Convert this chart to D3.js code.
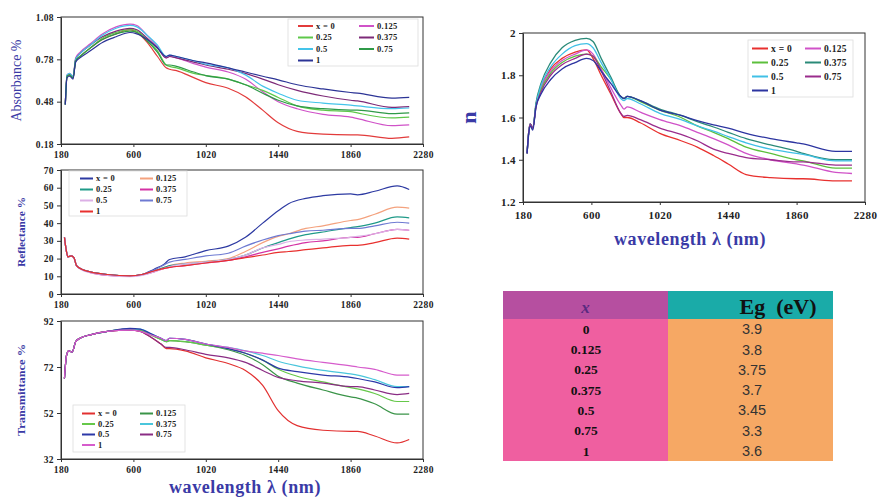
<!DOCTYPE html>
<html><head><meta charset="utf-8">
<script src="https://cdn.jsdelivr.net/npm/d3@7"></script>
<style>body{margin:0;background:#fff}svg{display:block}</style>
</head><body>
<svg id="c" width="880" height="497"></svg>
<script>
// ---------- DATA ----------
const xTicks = [180, 600, 1020, 1440, 1860, 2280];
const labels = ["x = 0", "0.125", "0.25", "0.375", "0.5", "0.75", "1"];

// Absorbance
const absWl = [205,215,230,250,265,290,350,420,500,580,620,680,740,790,810,850,950,1020,1150,1250,1350,1440,1550,1700,1860,1900,2100,2200];
const absTicks = [0.18, 0.48, 0.78, 1.08];
const abs0    = [0.46,0.66,0.67,0.65,0.77,0.80,0.86,0.92,0.96,0.99,0.97,0.90,0.80,0.72,0.71,0.70,0.65,0.615,0.575,0.515,0.42,0.33,0.27,0.25,0.245,0.245,0.22,0.23];
const abs0125 = [0.46,0.67,0.68,0.66,0.79,0.83,0.89,0.96,1.01,1.03,1.02,0.95,0.87,0.79,0.80,0.79,0.75,0.725,0.69,0.64,0.55,0.48,0.43,0.39,0.37,0.36,0.31,0.315];
const abs025  = [0.46,0.66,0.67,0.65,0.77,0.80,0.86,0.93,0.97,0.99,0.98,0.92,0.84,0.74,0.73,0.72,0.68,0.665,0.64,0.60,0.56,0.51,0.45,0.42,0.41,0.40,0.365,0.37];
const abs0375 = [0.46,0.66,0.67,0.65,0.78,0.82,0.88,0.94,0.98,1.00,0.99,0.93,0.86,0.79,0.80,0.79,0.76,0.74,0.71,0.68,0.64,0.60,0.56,0.52,0.49,0.485,0.44,0.445];
const abs05   = [0.46,0.67,0.68,0.66,0.78,0.82,0.88,0.95,1.00,1.02,1.01,0.95,0.88,0.80,0.81,0.80,0.77,0.745,0.72,0.67,0.59,0.54,0.49,0.47,0.455,0.45,0.43,0.435];
const abs075  = [0.46,0.66,0.67,0.65,0.77,0.80,0.86,0.92,0.96,0.98,0.97,0.91,0.83,0.74,0.74,0.73,0.69,0.665,0.64,0.60,0.54,0.49,0.45,0.43,0.42,0.42,0.395,0.40];
const abs1    = [0.46,0.65,0.66,0.64,0.76,0.79,0.84,0.90,0.94,0.97,0.96,0.92,0.86,0.80,0.81,0.80,0.77,0.755,0.72,0.69,0.66,0.635,0.60,0.57,0.545,0.54,0.505,0.51];
const absColors = ["#e23b3b","#d052c8","#5ec84a","#7d2a78","#44c4ea","#2f9a48","#2c3496"];

// Reflectance
const refWl = [200,210,220,240,255,270,300,350,450,580,650,720,780,810,900,1020,1150,1250,1350,1440,1500,1600,1700,1860,1900,2000,2130,2200];
const refTicks = [0,10,20,30,40,50,60,70];
const ref0    = [32,25,21,21.5,20.5,16,14,12.5,11,10.3,11,14,17,19.5,21,24.5,27,32,40,47,51,54,55.5,56.5,56,58,61,59];
const ref0125 = [32,25,21,21.5,20.5,16,14,12.5,11,10.3,11,13,15,16,17.5,18.5,20,24,29,32.5,34,37,38.5,41.5,42,45,49,48.5];
const ref025  = [32,25,21,21.5,20.5,16,14,12.5,11,10.2,11,13,15,16,17,18,19.5,22,26,29,31,33.5,35,37.5,38,40,43.5,43];
const ref0375 = [32,25,21,21.5,20.5,16,14,12,10.5,10,10.8,12.5,14.5,15,16,17.5,19,21,23.5,25.5,27,29,30,32,32,34,36.5,36];
const ref05   = [32,25,21,21.5,20.5,16,13.5,12,10.5,9.8,10.5,12.5,14.5,15.5,17,18,19.5,22,26,28,29.5,30.5,31,32,32.5,34,36.5,36];
const ref075  = [32,25,21,21.5,20.5,16,14,12.5,11,10.3,11,13.5,16.5,18,19.5,21.5,23,27,30.5,33,34,35.5,36,37,37,38.5,40.5,40];
const ref1    = [32,25,21,21.5,20.5,16,14,12.5,11,10.2,11,13,14.5,15,16,17.5,19,20.5,22,23.5,24,25,26,27.5,27.5,29,31.5,31];
const refColors = ["#2d3aa2","#f4a27e","#1f9a88","#d432a4","#dcb0e6","#6e7ad2","#e8302e"];

// Transmittance
const trWl = [200,212,225,245,265,290,350,450,580,640,700,760,790,810,900,1020,1150,1250,1350,1440,1550,1700,1860,1900,2000,2130,2200];
const trTicks = [32,52,72,92];
const tr0    = [67,77,79,78.5,83,84.5,86,87.5,88,87.5,85,82,80,80,79,76,73.5,70.5,64,53,46.5,44.5,44,44,42,39,40.5];
const tr0125 = [67,77,79,78.5,83,84.5,86,87.5,88.5,88,86,84,83,83.5,83,81.5,79.5,77,73,68,65,62,59,58.5,56,51.5,51.5];
const tr025  = [67,77,79,78.5,83,84.5,86,87.5,88.5,88,86,84,83,83.5,83,81.5,80,78,75,71,68,65.5,63,62.5,60.5,57,57];
const tr0375 = [67,77,79,78.5,83,84.5,86,87.5,88.5,88.5,86.5,84.5,83.5,84.5,84,82,80.5,79,77,74.5,72.5,70.5,69,68.5,66.5,63.5,63.5];
const tr05   = [67,77,79,78.5,83,84.5,86,87.5,88.8,88.5,86.5,84.5,83.5,84.5,84,82,80,78,75,71.5,70,68.5,67.5,67,65.5,63,63.5];
const tr075  = [67,77,79,78.5,83,84.5,86,87.5,88,87.5,85,82,80.5,80.5,79.5,77.5,76,74,70.5,67.5,66,65,63.5,63.5,62,60,60.5];
const tr1    = [67,77,79,78.5,83,84.5,86,87.5,88,87.5,86,84.5,83.5,84.5,84,82,80.5,79,78,77,75.5,74,72.5,72,71,68.5,68.5];
const trColors = ["#e23030","#3a9448","#66c84a","#4ac6dc","#2c38a8","#8a2c84","#d65ccc"];

// Refractive index n
const nWl = [205,215,225,240,260,290,350,420,500,570,610,660,720,780,800,820,900,1020,1150,1250,1350,1440,1550,1700,1860,1900,2100,2200];
const nTicks = [1.2,1.4,1.6,1.8,2];
const n0    = [1.43,1.53,1.57,1.55,1.66,1.74,1.83,1.88,1.91,1.92,1.88,1.80,1.71,1.62,1.60,1.60,1.575,1.525,1.49,1.46,1.42,1.38,1.33,1.315,1.31,1.31,1.30,1.30];
const n0125 = [1.43,1.53,1.57,1.55,1.66,1.74,1.82,1.87,1.90,1.92,1.90,1.83,1.74,1.66,1.64,1.65,1.625,1.59,1.56,1.53,1.50,1.47,1.43,1.40,1.38,1.375,1.34,1.335];
const n025  = [1.43,1.53,1.57,1.55,1.66,1.73,1.81,1.86,1.89,1.90,1.89,1.84,1.78,1.70,1.69,1.70,1.675,1.635,1.60,1.56,1.53,1.50,1.46,1.43,1.40,1.395,1.36,1.36];
const n0375 = [1.43,1.53,1.57,1.55,1.67,1.76,1.86,1.93,1.965,1.975,1.96,1.88,1.79,1.70,1.69,1.70,1.68,1.64,1.61,1.58,1.555,1.53,1.50,1.47,1.44,1.43,1.40,1.40];
const n05   = [1.43,1.53,1.57,1.55,1.66,1.75,1.84,1.90,1.94,1.95,1.93,1.86,1.78,1.69,1.68,1.69,1.665,1.62,1.59,1.56,1.535,1.51,1.48,1.45,1.43,1.425,1.395,1.395];
const n075  = [1.43,1.53,1.57,1.55,1.65,1.72,1.80,1.85,1.88,1.90,1.89,1.82,1.72,1.62,1.605,1.61,1.59,1.55,1.52,1.49,1.45,1.43,1.41,1.40,1.39,1.39,1.375,1.375];
const n1    = [1.43,1.52,1.56,1.54,1.65,1.71,1.78,1.83,1.86,1.88,1.87,1.82,1.76,1.70,1.69,1.70,1.68,1.635,1.61,1.585,1.565,1.55,1.525,1.50,1.48,1.475,1.44,1.44];
const nColors = ["#e8302e","#d052c8","#5cbf3c","#2a8a78","#40c0e6","#9a2c8c","#2c34a0"];

// Band gap table
const tableX  = ["0","0.125","0.25","0.375","0.5","0.75","1"];
const tableEg = ["3.9","3.8","3.75","3.7","3.45","3.3","3.6"];

// ---------- DRAW ----------
const svg = d3.select("#c");
const SERIF = "'Liberation Serif','DejaVu Serif',serif";
const BLUE = "#3a3aa6";

function panel(o) {
  const x = d3.scaleLinear().domain([180, 2280]).range([o.x0, o.x1]);
  const y = d3.scaleLinear().domain(o.ydom).range([o.y1, o.y0]);
  const g = svg.append("g");
  g.append("rect").attr("x", o.x0).attr("y", o.y0).attr("width", o.x1 - o.x0).attr("height", o.y1 - o.y0)
    .attr("fill", "none").attr("stroke", "#333").attr("stroke-width", 1);
  const line = d3.line().x(d => x(d[0])).y(d => y(d[1])).curve(d3.curveMonotoneX);
  o.series.forEach((s, i) => {
    g.append("path").datum(o.wl.map((w, k) => [w, s[k]]))
      .attr("d", line).attr("fill", "none").attr("stroke", o.colors[i])
      .attr("stroke-width", o.sw || 1.2).attr("stroke-linejoin", "round");
  });
  const ax = g.append("g").attr("transform", `translate(0,${o.y1})`)
    .call(d3.axisBottom(x).tickValues(xTicks).tickSize(3).tickSizeOuter(0)
      .tickFormat(d3.format("d")).tickPadding(o.xpad || 4));
  const ay = g.append("g").attr("transform", `translate(${o.x0},0)`)
    .call(d3.axisLeft(y).tickValues(o.yticks).tickSize(4).tickSizeOuter(0).tickFormat(o.fmt).tickPadding(3));
  [ax, ay].forEach(a => {
    a.select(".domain").attr("stroke", "#333");
    a.selectAll("line").attr("stroke", "#333");
    a.selectAll("text").attr("font-family", SERIF).attr("font-weight", "bold")
      .attr("font-size", o.fs).attr("fill", "#222").attr("letter-spacing", "0.4px");
  });
  const L = o.leg;
  g.append("rect").attr("x", L.x).attr("y", L.y).attr("width", L.w).attr("height", L.h)
    .attr("fill", "#fff").attr("stroke", "#ddd").attr("stroke-width", 0.8);
  labels.forEach((lab, i) => {
    const col = i % 2, row = Math.floor(i / 2);
    const lx = L.x + L.c[col], ly = L.y + L.r0 + row * L.dr;
    g.append("line").attr("x1", lx).attr("x2", lx + L.ll).attr("y1", ly).attr("y2", ly)
      .attr("stroke", o.colors[i]).attr("stroke-width", 2);
    g.append("text").attr("x", lx + L.ll + 3).attr("y", ly).attr("dy", "0.35em")
      .attr("font-family", SERIF).attr("font-weight", "bold").attr("font-size", L.fs)
      .attr("fill", "#222").attr("letter-spacing", "0.3px").text(lab);
  });
  g.append("text").attr("transform", `translate(${o.tx},${(o.y0 + o.y1) / 2}) rotate(-90)`)
    .attr("text-anchor", "middle").attr("font-family", SERIF).attr("font-weight", o.tw || "normal")
    .attr("font-size", o.tfs).attr("fill", BLUE).attr("textLength", o.tlen || null)
    .attr("lengthAdjust", "spacingAndGlyphs").text(o.title);
}

const fmt2 = d => d.toFixed(2);
panel({x0: 61, x1: 423, y0: 17, y1: 144, ydom: [0.18, 1.08], yticks: absTicks, fmt: fmt2,
  wl: absWl, series: [abs0, abs0125, abs025, abs0375, abs05, abs075, abs1], colors: absColors, fs: 9.5,
  leg: {x: 288, y: 19, w: 130, h: 47, c: [10, 71], r0: 7, dr: 11.5, ll: 15, fs: 8.5},
  tx: 21, title: "Absorbance %", tfs: 14, tlen: 82});
panel({x0: 61, x1: 423, y0: 170, y1: 294, ydom: [0, 70], yticks: refTicks, fmt: d => d,
  wl: refWl, series: [ref0, ref0125, ref025, ref0375, ref05, ref075, ref1], colors: refColors, fs: 9.5,
  leg: {x: 69, y: 171, w: 118, h: 45, c: [11, 71], r0: 7.5, dr: 11, ll: 13, fs: 8.5},
  tx: 25, title: "Reflectance %", tfs: 11, tlen: 70, tw: "bold"});
panel({x0: 61, x1: 423, y0: 321, y1: 459, ydom: [32, 92], yticks: trTicks, fmt: d => d,
  wl: trWl, series: [tr0, tr0125, tr025, tr0375, tr05, tr075, tr1], colors: trColors, fs: 9.5,
  leg: {x: 73, y: 405, w: 112, h: 47, c: [9, 67], r0: 8.5, dr: 10.5, ll: 13, fs: 8.5},
  tx: 25, title: "Transmittance %", tfs: 11, tlen: 92, tw: "bold"});
panel({x0: 523, x1: 865, y0: 33, y1: 202, ydom: [1.2, 2], yticks: nTicks, fmt: d => d,
  wl: nWl, series: [n0, n0125, n025, n0375, n05, n075, n1], colors: nColors, fs: 11, sw: 1.3, xpad: 6,
  leg: {x: 748, y: 40, w: 105, h: 57, c: [4, 57], r0: 8.5, dr: 14, ll: 16, fs: 9.5},
  tx: 476, title: "n", tfs: 22, tw: "bold"});

[[245, 493], [690, 245]].forEach(([cx, cy]) => {
  svg.append("text").attr("x", cx).attr("y", cy).attr("text-anchor", "middle")
    .attr("font-family", SERIF).attr("font-weight", "bold").attr("font-size", 18)
    .attr("fill", BLUE).attr("letter-spacing", "0.6px").text("wavelength λ (nm)");
});

// ---------- TABLE ----------
const tx0 = 503, tx1 = 833, tmid = 668, hy0 = 291, hy1 = 319, by1 = 461;
const rowY = d3.scaleBand().domain(tableX).range([hy1, by1]);
const T = svg.append("g");
T.append("rect").attr("x", tx0).attr("y", hy0).attr("width", tmid - tx0).attr("height", hy1 - hy0).attr("fill", "#b64fa0");
T.append("rect").attr("x", tmid).attr("y", hy0).attr("width", tx1 - tmid).attr("height", hy1 - hy0).attr("fill", "#1aaba8");
T.append("rect").attr("x", tx0).attr("y", hy1).attr("width", tmid - tx0).attr("height", by1 - hy1).attr("fill", "#ef5fa0");
T.append("rect").attr("x", tmid).attr("y", hy1).attr("width", tx1 - tmid).attr("height", by1 - hy1).attr("fill", "#f6a864");
T.append("text").attr("x", (tx0 + tmid) / 2).attr("y", 313).attr("text-anchor", "middle")
  .attr("font-family", SERIF).attr("font-style", "italic").attr("font-weight", "bold")
  .attr("font-size", 17).attr("fill", "#5a2a80").text("x");
T.append("text").attr("x", 778).attr("y", 314).attr("text-anchor", "middle")
  .attr("font-family", SERIF).attr("font-weight", "bold").attr("font-size", 22)
  .attr("fill", "#111").attr("xml:space", "preserve").text("Eg  (eV)");
tableX.forEach((v, i) => {
  const cy = rowY(v) + rowY.bandwidth() / 2;
  T.append("text").attr("x", 586).attr("y", cy).attr("dy", "0.35em").attr("text-anchor", "middle")
    .attr("font-family", SERIF).attr("font-weight", "bold").attr("font-size", 13.5).attr("fill", "#111").text(v);
  T.append("text").attr("x", 752).attr("y", cy).attr("dy", "0.35em").attr("text-anchor", "middle")
    .attr("font-family", "'Liberation Sans',Arial,sans-serif").attr("font-size", 14.5).attr("fill", "#333").text(tableEg[i]);
});
</script>
</body></html>
